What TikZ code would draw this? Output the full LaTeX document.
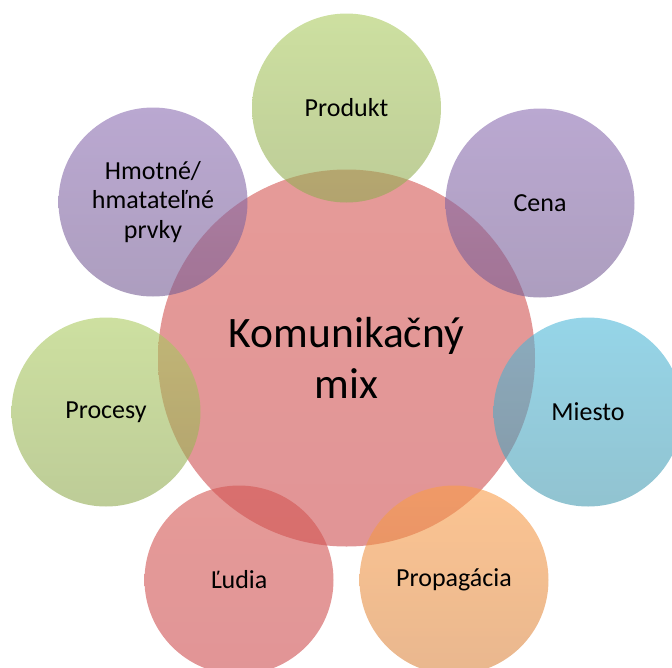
\documentclass[tikz,border=0pt]{standalone}
\usepackage{fontspec}
\setmainfont{Carlito}
\definecolor{redT}{RGB}{212,87,83}
\definecolor{redB}{RGB}{205,78,80}
\definecolor{grnT}{RGB}{172,203,97}
\definecolor{grnB}{RGB}{145,170,82}
\definecolor{purT}{RGB}{140,110,178}
\definecolor{purB}{RGB}{118,93,148}
\definecolor{bluT}{RGB}{80,185,217}
\definecolor{bluB}{RGB}{72,155,177}
\definecolor{orgT}{RGB}{250,157,73}
\definecolor{orgB}{RGB}{218,135,67}
\tikzset{
  bub/.style={circle, inner sep=0pt, minimum size=141.75pt, fill opacity=0.6, text opacity=1,
    font=\fontsize{19.5}{21.8}\selectfont, align=center, text=black},
  hub/.style={circle, inner sep=0pt, minimum size=282.75pt, fill opacity=0.6, text opacity=1,
    font=\fontsize{32.6}{38.3}\selectfont, align=center, text=black},
  redsh/.style={shade, top color=redT, bottom color=redB},
  grnsh/.style={shade, top color=grnT, bottom color=grnB},
  pursh/.style={shade, top color=purT, bottom color=purB},
  blush/.style={shade, top color=bluT, bottom color=bluB},
  orgsh/.style={shade, top color=orgT, bottom color=orgB},
}
\begin{document}
\begin{tikzpicture}[x=0.75pt,y=-0.75pt]
\useasboundingbox (0,0) rectangle (672,668);
\clip (0,0) rectangle (672,668);
\node[hub, redsh] (hubc) at (346.5,358) {Komunikačný\\mix};
\node[bub, grnsh] (produkt) at (346.5,108) {Produkt};
\node[bub, pursh] (cena) at (540,203) {Cena};
\node[bub, blush] (miesto) at (588,412) {Miesto};
\node[bub, orgsh] (propag) at (454,580) {Propagácia};
\node[bub, redsh] (ludia) at (239,580) {Ľudia};
\node[bub, grnsh] (procesy) at (106,412) {Procesy};
\node[bub, pursh] (hmotne) at (153,202) {Hmotné/\\hmatateľné\\prvky};
\end{tikzpicture}
\end{document}
